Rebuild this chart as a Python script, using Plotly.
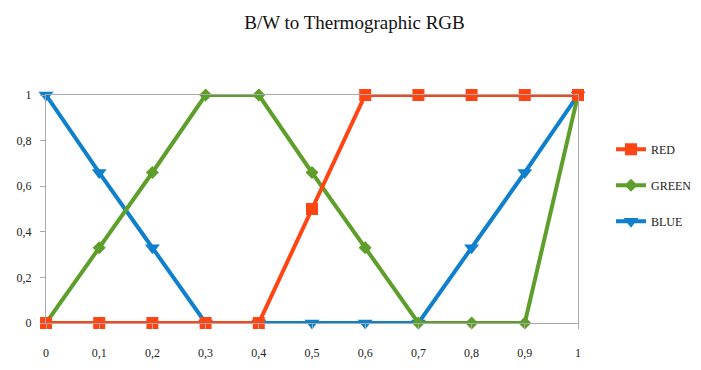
import plotly.graph_objects as go

x_vals = [0, 0.1, 0.2, 0.3, 0.4, 0.5, 0.6, 0.7, 0.8, 0.9, 1]
red = [0, 0, 0, 0, 0, 0.5, 1, 1, 1, 1, 1]
green = [0, 0.33, 0.66, 1, 1, 0.66, 0.33, 0, 0, 0, 1]
blue = [1, 0.66, 0.33, 0, 0, 0, 0, 0, 0.33, 0.66, 1]
y_ticks = [0, 0.2, 0.4, 0.6, 0.8, 1]

FONT = "Liberation Serif"

fig = go.Figure()
# draw order: blue bottom, green, red on top; legend ranks RED, GREEN, BLUE
series = [
    ("BLUE", blue, "#0F80CC", "triangle-down", 13, 3),
    ("GREEN", green, "#5E9E2B", "diamond", 10, 2),
    ("RED", red, "#FF4514", "square", 12, 1),
]
for name, vals, col, sym, sz, rank in series:
    fig.add_trace(go.Scatter(
        x=x_vals, y=vals, name=name, mode="lines+markers",
        line=dict(color=col, width=4),
        marker=dict(symbol=sym, size=sz, color=col),
        cliponaxis=False, legendgroup=name, legendrank=rank,
    ))

W, H = 693, 362  # page body margin of 8px offsets the figure
fig.update_layout(
    width=W, height=H,
    margin=dict(l=38, r=123, t=87, b=47, autoexpand=False),
    paper_bgcolor="white", plot_bgcolor="white",
    separators=",.",
    font=dict(family=FONT, size=12, color="#222"),
    title=dict(text="B/W to Thermographic RGB", x=0.5, xref="container",
               y=0.961, yref="container", yanchor="middle",
               font=dict(family=FONT, size=19, color="#111")),
    showlegend=True,
    legend=dict(x=1.062, y=0.826, xanchor="left", yanchor="top",
                traceorder="grouped", tracegroupgap=17,
                font=dict(family=FONT, size=12, color="#222")),
    xaxis=dict(range=[0, 1], tickvals=x_vals, showgrid=False, zeroline=False,
               showline=True, linecolor="#AAAAAA", linewidth=1, mirror=True,
               ticks="outside", ticklen=5, tickcolor="#AAAAAA", ticklabelstandoff=14,
               automargin=False),
    yaxis=dict(range=[0, 1], tickvals=y_ticks, showgrid=False, zeroline=False,
               showline=True, linecolor="#AAAAAA", linewidth=1, mirror=True,
               ticks="outside", ticklen=5, tickcolor="#AAAAAA", ticklabelstandoff=6,
               automargin=False),
)

fig.write_html("out.html")
